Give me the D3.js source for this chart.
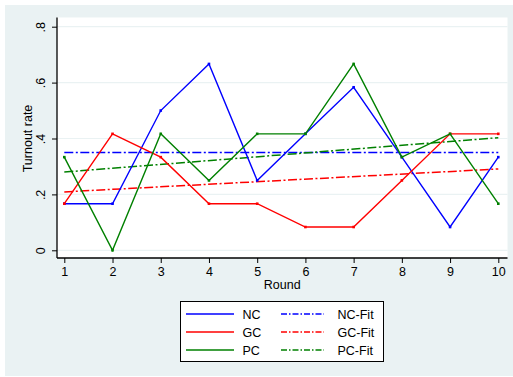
<!DOCTYPE html>
<html>
<head>
<meta charset="utf-8">
<script src="https://cdn.jsdelivr.net/npm/d3@7"></script>
<style>
  body { margin: 0; background: #fff; }
  svg { display: block; font-family: "Liberation Sans", Arial, sans-serif; }
</style>
</head>
<body>
<div id="chart"></div>
<script>
// data
var rounds = [1, 2, 3, 4, 5, 6, 7, 8, 9, 10];
var ncValues = [0.1667, 0.1667, 0.5, 0.6667, 0.25, 0.4167, 0.5833, 0.3333, 0.0833, 0.3333];
var gcValues = [0.1667, 0.4167, 0.3333, 0.1667, 0.1667, 0.0833, 0.0833, 0.25, 0.4167, 0.4167];
var pcValues = [0.3333, 0, 0.4167, 0.25, 0.4167, 0.4167, 0.6667, 0.3333, 0.4167, 0.1667];
// fitted lines, value at round 1 and round 10
var ncFit = [0.35, 0.35];
var gcFit = [0.209, 0.291];
var pcFit = [0.280, 0.403];
var yTicks = [0, 0.2, 0.4, 0.6, 0.8];
var yTickLabels = ["0", ".2", ".4", ".6", ".8"];
var seriesNames = ["NC", "GC", "PC"];
var fitNames = ["NC-Fit", "GC-Fit", "PC-Fit"];

var width = 513, height = 377;
var colors = ["#0000ff", "#ff0000", "#008000"];
var plot = {left: 57, top: 17.5, right: 507.5, bottom: 258};

var svg = d3.select("#chart").append("svg")
  .attr("width", width)
  .attr("height", height);

// outer graph region
svg.append("rect")
  .attr("x", 5).attr("y", 5)
  .attr("width", width - 5).attr("height", height - 6)
  .attr("fill", "#eaf2f3");

// plot region
svg.append("rect")
  .attr("x", plot.left).attr("y", plot.top)
  .attr("width", plot.right - plot.left).attr("height", plot.bottom - plot.top)
  .attr("fill", "#fff");

var x = d3.scaleLinear().domain([1, 10]).range([64.3, 498.3]);
var y = d3.scaleLinear().domain([0, 0.8]).range([250.3, 26.7]);

// grid lines
svg.append("g").selectAll("line")
  .data(yTicks)
  .enter().append("line")
  .attr("x1", plot.left).attr("x2", plot.right)
  .attr("y1", function(d) { return y(d); })
  .attr("y2", function(d) { return y(d); })
  .attr("stroke", "#eaf2f3")
  .attr("stroke-width", 1.2);

// y axis
var yAxis = svg.append("g")
  .attr("transform", "translate(" + plot.left + ",0)")
  .call(d3.axisLeft(y).tickValues(yTicks).tickSize(5)
    .tickFormat(function(d, i) { return yTickLabels[i]; }));
yAxis.select(".domain").attr("d", "M0," + plot.top + "V" + plot.bottom).attr("stroke", "#000").attr("stroke-width", 1.3);
yAxis.selectAll(".tick line").attr("stroke", "#000");
yAxis.selectAll(".tick text")
  .attr("transform", "rotate(-90)")
  .attr("x", 0).attr("y", -12).attr("dy", 0)
  .attr("text-anchor", "middle")
  .style("font-size", "12.5px")
  .attr("fill", "#000");

// x axis
var xAxis = svg.append("g")
  .attr("transform", "translate(0," + plot.bottom + ")")
  .call(d3.axisBottom(x).tickValues(rounds).tickSize(5).tickFormat(d3.format("d")));
xAxis.select(".domain").attr("d", "M" + plot.left + ",0H" + plot.right).attr("stroke", "#000").attr("stroke-width", 1.3);
xAxis.selectAll(".tick line").attr("stroke", "#000");
xAxis.selectAll(".tick text")
  .attr("y", 18).attr("dy", 0)
  .style("font-size", "12.5px")
  .attr("fill", "#000");

// axis titles
svg.append("text")
  .attr("transform", "translate(31.5," + ((y(0) + y(0.8)) / 2) + ") rotate(-90)")
  .attr("text-anchor", "middle")
  .style("font-size", "12.5px")
  .text("Turnout rate");

svg.append("text")
  .attr("x", (plot.left + plot.right) / 2)
  .attr("y", 289)
  .attr("text-anchor", "middle")
  .style("font-size", "12.5px")
  .text("Round");

var line = d3.line()
  .x(function(d) { return x(d.r); })
  .y(function(d) { return y(d.v); });

var allSeries = [ncValues, gcValues, pcValues];
var allFits = [ncFit, gcFit, pcFit];
var fitDash = "9,2.5,2,2.5";

// fit lines
allFits.forEach(function(f, i) {
  svg.append("path")
    .datum([{r: rounds[0], v: f[0]}, {r: rounds[rounds.length - 1], v: f[1]}])
    .attr("d", line)
    .attr("fill", "none")
    .attr("stroke", colors[i])
    .attr("stroke-width", 1.5)
    .attr("stroke-dasharray", fitDash);
});

// observed lines
allSeries.forEach(function(s, i) {
  var pts = rounds.map(function(r, j) { return {r: r, v: s[j]}; });
  svg.append("path")
    .datum(pts)
    .attr("d", line)
    .attr("fill", "none")
    .attr("stroke", colors[i])
    .attr("stroke-width", 1.4)
    .attr("stroke-linejoin", "miter");
  svg.append("g").selectAll("rect")
    .data(pts)
    .enter().append("rect")
    .attr("x", function(d) { return x(d.r) - 1.3; })
    .attr("y", function(d) { return y(d.v) - 1.3; })
    .attr("width", 2.6).attr("height", 2.6)
    .attr("fill", colors[i]);
});

// legend
var legend = svg.append("g");
legend.append("rect")
  .attr("x", 180.5).attr("y", 301.5)
  .attr("width", 203).attr("height", 60)
  .attr("fill", "#fff")
  .attr("stroke", "#000")
  .attr("stroke-width", 1);

seriesNames.forEach(function(name, i) {
  var cy = 314 + i * 18;
  legend.append("line")
    .attr("x1", 186).attr("x2", 234)
    .attr("y1", cy).attr("y2", cy)
    .attr("stroke", colors[i]).attr("stroke-width", 1.4);
  legend.append("text")
    .attr("x", 242.5).attr("y", cy + 4.5)
    .style("font-size", "12.5px")
    .text(name);
  legend.append("line")
    .attr("x1", 281).attr("x2", 324)
    .attr("y1", cy).attr("y2", cy)
    .attr("stroke", colors[i]).attr("stroke-width", 1.4)
    .attr("stroke-dasharray", "6,2,1.5,2");
  legend.append("text")
    .attr("x", 337.5).attr("y", cy + 4.5)
    .style("font-size", "12.5px")
    .text(fitNames[i]);
});
</script>
</body>
</html>
